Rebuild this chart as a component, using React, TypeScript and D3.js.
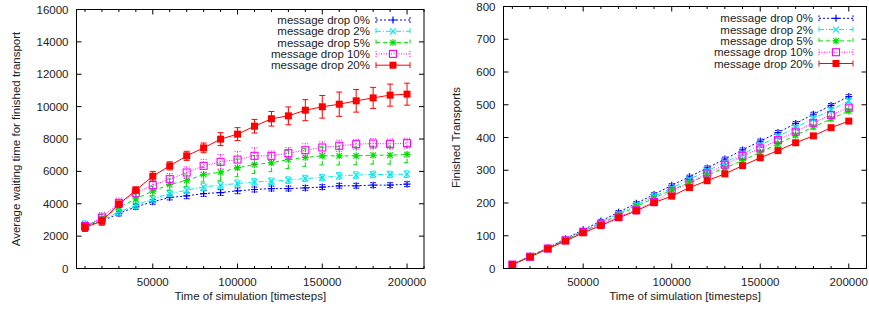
import React from 'react';
import * as d3 from 'd3';

// simulation time points
const steps = [10000, 20000, 30000, 40000, 50000, 60000, 70000, 80000, 90000, 100000,
  110000, 120000, 130000, 140000, 150000, 160000, 170000, 180000, 190000, 200000];

const seriesNames = ['message drop 0%', 'message drop 2%', 'message drop 5%', 'message drop 10%', 'message drop 20%'];

// left chart: average waiting time
const wait0 = [2660, 2920, 3400, 3810, 4120, 4390, 4490, 4630, 4690, 4800, 4880, 4940, 4940, 4980, 5030, 5110, 5110, 5150, 5150, 5210];
const wait2 = [2740, 2990, 3500, 3910, 4300, 4630, 4840, 5045, 5150, 5250, 5350, 5390, 5460, 5560, 5620, 5720, 5770, 5810, 5810, 5830];
const wait5 = [2570, 3090, 3770, 4300, 4780, 5190, 5440, 5800, 5950, 6220, 6420, 6530, 6730, 6860, 6960, 6960, 6960, 7000, 7000, 7040];
const wait10 = [2620, 3150, 4055, 4675, 5150, 5520, 5930, 6340, 6590, 6730, 6960, 6960, 7125, 7310, 7475, 7580, 7680, 7720, 7700, 7740];
const wait20 = [2540, 2920, 3970, 4840, 5700, 6340, 6960, 7450, 7990, 8300, 8790, 9250, 9430, 9780, 9990, 10150, 10360, 10540, 10710, 10770];

const waitErr0 = [150, 150, 150, 150, 150, 150, 180, 180, 180, 180, 150, 150, 150, 150, 150, 150, 150, 150, 150, 150];
const waitErr2 = [200, 200, 200, 200, 200, 200, 220, 220, 220, 220, 200, 200, 200, 200, 200, 200, 200, 200, 200, 200];
const waitErr5 = [250, 250, 250, 300, 300, 350, 400, 450, 500, 550, 550, 550, 550, 550, 560, 560, 550, 550, 550, 500];
const waitErr10 = [250, 300, 300, 300, 300, 350, 350, 400, 450, 500, 500, 300, 350, 400, 350, 350, 300, 300, 300, 300];
const waitErr20 = [250, 250, 200, 200, 300, 250, 280, 300, 400, 400, 420, 450, 550, 650, 700, 750, 700, 650, 680, 680];

// right chart: finished transports
const fin0 = [12, 38, 63, 91, 118, 145, 172, 199, 226, 254, 280, 307, 334, 362, 389, 415, 443, 471, 498, 525];
const fin2 = [12, 37, 62, 89, 115, 141, 167, 194, 220, 246, 272, 298, 324, 350, 377, 403, 430, 458, 484, 512];
const fin5 = [12, 37, 62, 87, 113, 138, 163, 189, 215, 240, 262, 285, 307, 330, 355, 380, 407, 432, 457, 481];
const fin10 = [12, 36, 61, 86, 112, 135, 158, 178, 203, 237, 261, 290, 317, 344, 367, 392, 418, 445, 469, 491];
const fin20 = [12, 35, 60, 84, 109, 131, 155, 176, 201, 221, 247, 268, 289, 314, 338, 360, 384, 405, 430, 450];

const finErr0 = [3, 3, 4, 4, 4, 5, 5, 5, 5, 5, 5, 6, 6, 6, 6, 6, 6, 6, 6, 6];
const finErr2 = [3, 3, 4, 4, 4, 5, 5, 5, 5, 5, 5, 6, 6, 6, 6, 6, 6, 6, 6, 6];
const finErr5 = [3, 3, 4, 4, 4, 5, 5, 5, 6, 6, 6, 6, 6, 6, 6, 6, 6, 6, 6, 6];
const finErr10 = [3, 3, 4, 4, 4, 5, 6, 8, 10, 6, 6, 6, 6, 6, 6, 6, 6, 6, 6, 6];
const finErr20 = [3, 3, 3, 3, 3, 3, 4, 4, 4, 4, 4, 4, 4, 4, 4, 4, 4, 4, 4, 4];

const leftTicks = [0, 2000, 4000, 6000, 8000, 10000, 12000, 14000, 16000];
const rightTicks = [0, 100, 200, 300, 400, 500, 600, 700, 800];
const xMajor = [50000, 100000, 150000, 200000];

const styles = [
  { color: '#0000ff', dash: '2,2', marker: 'plus' },
  { color: '#00e8e8', dash: '5,2,1,2', marker: 'cross' },
  { color: '#00e000', dash: '4,3', marker: 'star' },
  { color: '#ff00ff', dash: '1,1.5', marker: 'box' },
  { color: '#ff0000', dash: null, marker: 'filled' },
];

const FONT = '"Liberation Sans", Arial, Helvetica, sans-serif';

function Marker({ kind, x, y, color }: any) {
  const s = 3.5;
  if (kind === 'plus') {
    return <path d={`M${x - s},${y}H${x + s}M${x},${y - s}V${y + s}`} stroke={color} strokeWidth={1.2} />;
  }
  if (kind === 'cross') {
    const c = s * 0.85;
    return <path d={`M${x - c},${y - c}L${x + c},${y + c}M${x - c},${y + c}L${x + c},${y - c}`} stroke={color} strokeWidth={1.2} />;
  }
  if (kind === 'star') {
    const c = s * 0.8;
    return <path d={`M${x - s},${y}H${x + s}M${x},${y - s}V${y + s}M${x - c},${y - c}L${x + c},${y + c}M${x - c},${y + c}L${x + c},${y - c}`} stroke={color} strokeWidth={1.1} />;
  }
  if (kind === 'box') {
    return <rect x={x - s} y={y - s} width={2 * s} height={2 * s} fill="none" stroke={color} strokeWidth={1.1} />;
  }
  return <rect x={x - s} y={y - s} width={2 * s} height={2 * s} fill={color} />;
}

function Panel({ left, right, top, bottom, yMax, yTicks, series, errors, ylabel, ylabelX, legendX, legendY }: any) {
  const x = d3.scaleLinear().domain([5000, 210000]).range([left, right]);
  const y = d3.scaleLinear().domain([0, yMax]).range([bottom, top]);
  const line = d3.line<number>().x((_, i) => x(steps[i])).y((d) => y(d));
  const minor = d3.range(10000, 210001, 10000).filter((v) => !xMajor.includes(v));
  const legendRows = [0, 11.3, 22.6, 33.9, 45.2];

  return (
    <g fontFamily={FONT} fontSize={11.5} fill="#222">
      {/* ticks, mirrored inside the box */}
      {yTicks.map((t: number) => (
        <g key={'y' + t}>
          <line x1={left} x2={left + 5} y1={y(t)} y2={y(t)} stroke="#000" />
          <line x1={right} x2={right - 5} y1={y(t)} y2={y(t)} stroke="#000" />
          <text x={left - 8} y={y(t)} dy="0.35em" textAnchor="end">{t}</text>
        </g>
      ))}
      {xMajor.map((t) => (
        <g key={'x' + t}>
          <line x1={x(t)} x2={x(t)} y1={bottom} y2={bottom - 5} stroke="#000" />
          <line x1={x(t)} x2={x(t)} y1={top} y2={top + 5} stroke="#000" />
          <text x={x(t)} y={286} textAnchor="middle">{t}</text>
        </g>
      ))}
      {minor.map((t) => (
        <g key={'m' + t}>
          <line x1={x(t)} x2={x(t)} y1={bottom} y2={bottom - 2.5} stroke="#000" />
          <line x1={x(t)} x2={x(t)} y1={top} y2={top + 2.5} stroke="#000" />
        </g>
      ))}
      <text x={(left + right) / 2} y={300} textAnchor="middle">Time of simulation [timesteps]</text>
      <text transform={`translate(${ylabelX},${(top + bottom) / 2}) rotate(-90)`} textAnchor="middle" dy="0.35em">{ylabel}</text>

      {series.map((vals: number[], si: number) => {
        const st = styles[si];
        return (
          <g key={'s' + si}>
            <path d={line(vals) || ''} fill="none" stroke={st.color} strokeWidth={1} strokeDasharray={st.dash || undefined} />
            {vals.map((v, i) => {
              const px = x(steps[i]);
              const e = errors[si][i];
              return (
                <g key={i}>
                  <path
                    d={`M${px},${y(v - e)}V${y(v + e)}M${px - 3},${y(v - e)}H${px + 3}M${px - 3},${y(v + e)}H${px + 3}`}
                    stroke={st.color} strokeWidth={1} strokeDasharray={st.dash || undefined} fill="none" />
                  <Marker kind={st.marker} x={px} y={y(v)} color={st.color} />
                </g>
              );
            })}
          </g>
        );
      })}

      {/* legend */}
      {seriesNames.map((name, si) => {
        const st = styles[si];
        const ly = legendY + legendRows[si];
        const x0 = legendX + 6;
        const x1 = legendX + 40;
        return (
          <g key={'l' + si}>
            <text x={legendX} y={ly} dy="0.35em" textAnchor="end">{name}</text>
            <path d={`M${x0},${ly}H${x1}M${x0},${ly - 3}V${ly + 3}M${x1},${ly - 3}V${ly + 3}`}
              stroke={st.color} strokeWidth={1} strokeDasharray={st.dash || undefined} fill="none" />
            <Marker kind={st.marker} x={(x0 + x1) / 2} y={ly} color={st.color} />
          </g>
        );
      })}

      <rect x={left} y={top} width={right - left} height={bottom - top} fill="none" stroke="#000" strokeWidth={1} />
    </g>
  );
}

export default function App() {
  return (
    <svg width={869} height={309} style={{ position: 'absolute', left: 0, top: 0, background: '#fff' }}>
      <rect width={869} height={309} fill="#fff" />
      <Panel left={76.5} right={424} top={9.5} bottom={268.5} yMax={16000} yTicks={leftTicks}
        series={[wait0, wait2, wait5, wait10, wait20]}
        errors={[waitErr0, waitErr2, waitErr5, waitErr10, waitErr20]}
        ylabel="Average waiting time for finished transport" ylabelX={16}
        legendX={370} legendY={20} />
      <Panel left={503.5} right={866.5} top={6.5} bottom={268.5} yMax={800} yTicks={rightTicks}
        series={[fin0, fin2, fin5, fin10, fin20]}
        errors={[finErr0, finErr2, finErr5, finErr10, finErr20]}
        ylabel="Finished Transports" ylabelX={456}
        legendX={813} legendY={18.3} />
    </svg>
  );
}
